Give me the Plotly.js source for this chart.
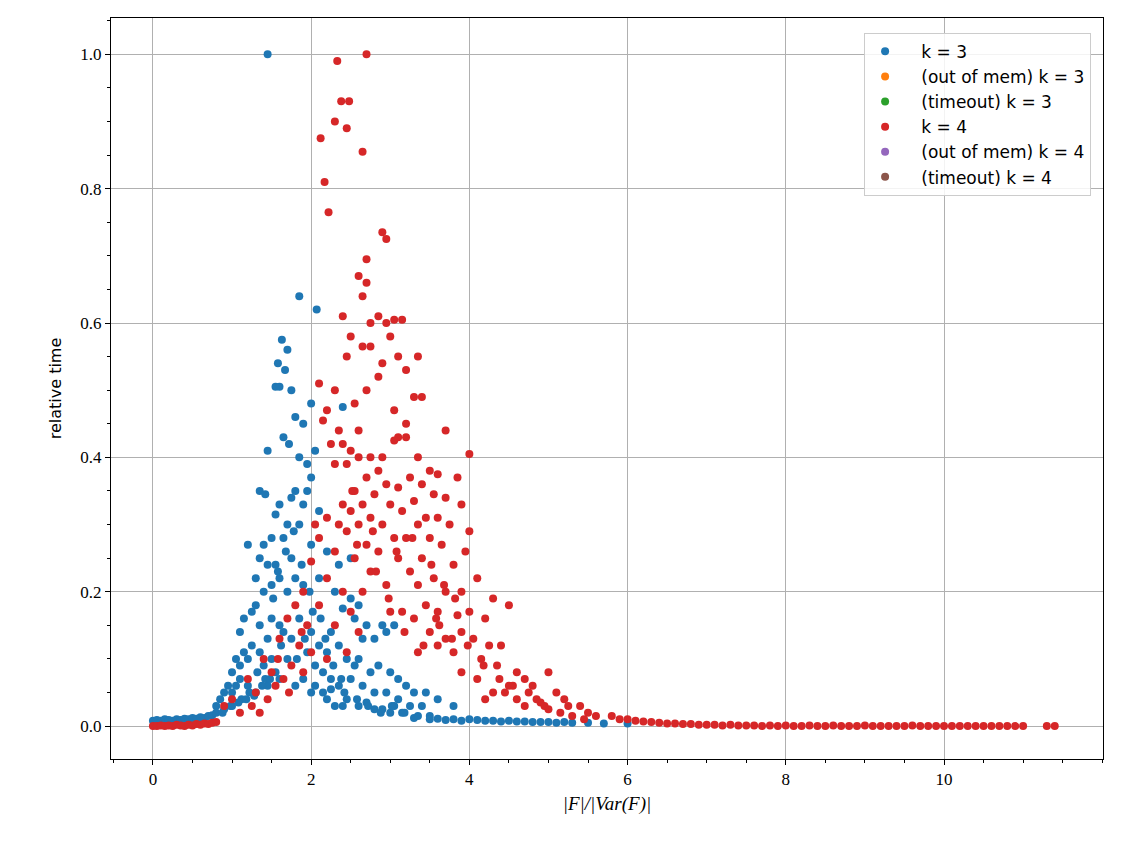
<!DOCTYPE html>
<html><head><meta charset="utf-8">
<script src="https://cdn.plot.ly/plotly-3.0.1.min.js"></script>
<style>body{margin:0}</style></head><body>
<div id="chart" style="width:1122px;height:862px"></div>
<script>
// k = 3 (blue)
const k3x = [1.45,1.85,2.07,1.63,1.7,1.58,1.55,1.6,1.67,1.75,1.8,1.9,2.0,2.05,2.4,1.45,1.65,1.72,1.85,1.95,2.0,1.35,1.42,1.6,1.75,1.8,1.9,1.95,2.1,1.55,1.7,1.85,1.65,1.5,1.4,1.2,1.35,1.45,1.55,1.75,2.0,2.2,2.35,2.5,1.3,1.4,1.5,1.6,1.7,1.8,1.9,2.1,2.3,2.5,2.4,2.6,2.55,2.7,2.9,2.65,2.8,2.95,3.05,1.1,1.15,1.25,1.3,1.35,1.45,1.5,1.6,1.65,1.75,1.85,2.0,2.1,2.2,2.25,2.35,2.45,2.55,2.6,2.75,2.85,3.0,3.1,3.2,3.3,3.45,3.6,3.8,1.0,1.05,1.1,1.15,1.2,1.25,1.35,1.4,1.5,1.55,1.7,1.95,2.05,2.15,2.25,2.35,2.5,2.65,2.8,2.95,3.1,3.25,3.4,0.8,0.85,0.9,0.95,1.0,1.05,1.1,1.2,1.3,1.45,1.6,1.8,2.0,2.2,2.4,2.6,2.8,3.0,3.5,4.0,
0.0,0.05,0.1,0.15,0.2,0.25,0.3,0.35,0.4,0.45,0.5,0.55,0.6,0.65,0.7,0.75,0.8,0.9,1.0,3.3,3.5,3.6,3.7,3.8,3.9,4.1,4.2,4.3,4.4,4.5,4.6,4.7,4.8,4.9,5.0,5.1,5.2,5.3,5.5,5.7,6.0,2.3,2.45,2.7,2.9,3.05,3.15,1.9,2.05,2.15,2.25,
1.52,1.58,1.68,1.78,1.88,1.98,2.12,2.18,2.28,2.38,1.12,1.22,1.32,1.42,1.62,1.82,1.92,2.02,2.42,2.58,2.72,2.88,3.02,3.18,3.35,0.88,0.98,1.08,1.18,1.28,1.38,1.48];
const k3y = [1.0,0.64,0.62,0.575,0.56,0.54,0.505,0.505,0.53,0.5,0.46,0.45,0.48,0.41,0.475,0.41,0.43,0.42,0.4,0.39,0.37,0.35,0.345,0.33,0.34,0.35,0.33,0.35,0.32,0.315,0.3,0.3,0.28,0.28,0.27,0.27,0.25,0.24,0.24,0.25,0.27,0.26,0.24,0.25,0.22,0.2,0.21,0.22,0.2,0.22,0.21,0.22,0.2,0.19,0.175,0.18,0.16,0.15,0.15,0.13,0.13,0.14,0.15,0.14,0.16,0.17,0.18,0.15,0.13,0.16,0.15,0.14,0.13,0.16,0.14,0.12,0.11,0.14,0.12,0.1,0.09,0.1,0.08,0.09,0.08,0.07,0.06,0.05,0.05,0.04,0.03,0.08,0.1,0.09,0.11,0.1,0.12,0.11,0.09,0.1,0.08,0.1,0.11,0.09,0.08,0.07,0.06,0.07,0.06,0.05,0.05,0.04,0.03,0.03,0.03,0.04,0.05,0.06,0.05,0.06,0.07,0.06,0.05,0.06,0.07,0.06,0.05,0.04,0.03,0.03,0.025,0.02,0.015,0.01,
0.008,0.009,0.008,0.01,0.009,0.008,0.01,0.009,0.011,0.01,0.012,0.011,0.013,0.012,0.015,0.016,0.02,0.025,0.03,0.012,0.01,0.011,0.009,0.01,0.008,0.009,0.008,0.008,0.007,0.008,0.007,0.007,0.006,0.006,0.006,0.005,0.006,0.005,0.005,0.004,0.004,0.03,0.04,0.035,0.025,0.03,0.02,0.07,0.06,0.05,0.055,
0.19,0.23,0.26,0.29,0.24,0.2,0.16,0.13,0.09,0.07,0.04,0.05,0.08,0.07,0.12,0.1,0.13,0.17,0.05,0.04,0.03,0.02,0.03,0.02,0.015,0.02,0.03,0.035,0.04,0.045,0.06,0.07];
// k = 4 (red)
const k4x = [2.7,2.33,2.38,2.48,2.3,2.45,2.12,2.65,2.17,2.22,2.9,2.95,2.7,2.6,2.7,2.65,2.4,2.85,2.75,3.05,3.15,2.95,2.5,3.0,2.65,2.75,2.45,3.1,3.35,2.9,3.2,2.85,2.1,2.7,2.3,3.4,3.3,2.2,2.55,3.05,2.15,2.6,2.35,3.2,3.1,3.05,3.2,3.7,2.25,2.4,2.5,4.0,2.6,2.75,2.9,3.35,2.3,2.45,2.85,3.5,3.6,2.7,3.25,3.85,2.95,3.1,3.4,2.55,2.8,3.55,3.7,2.4,2.65,3.0,3.3,3.9,2.2,2.5,2.75,3.15,3.45,3.6,2.05,2.35,2.6,2.9,3.35,3.75,4.0,2.45,3.05,3.2,3.5,2.1,2.7,2.85,3.65,3.95,2.3,2.55,3.1,3.4,3.8,2.0,2.75,3.25,3.55,4.1,2.2,2.95,3.35,3.7,3.9,4.3,4.5,1.9,2.4,2.65,3.0,3.15,3.45,3.6,3.85,4.0,4.2,1.8,2.1,2.5,3.3,3.5,3.7,3.9,4.05,4.25,4.4,1.7,1.95,2.3,2.6,3.6,3.35,3.8,4.15,4.35,4.6,4.7,5.0,1.6,1.85,2.0,2.2,2.45,3.9,4.1,4.5,4.8,5.1,1.4,1.5,1.75,1.9,4.3,4.6,4.9,5.2,5.4,1.2,1.3,1.55,1.65,4.2,4.7,5.0,5.5,5.8,0.9,1.0,1.1,1.25,1.45,6.0,
0.0,0.05,0.1,0.15,0.2,0.25,0.3,0.35,0.4,0.45,0.5,0.55,0.6,0.65,0.7,0.75,0.8,5.6,5.9,6.1,6.2,6.3,6.4,6.5,6.6,6.7,6.8,6.9,7.0,7.1,7.2,7.3,7.4,7.5,7.6,7.7,7.8,7.9,8.0,8.1,8.2,8.3,8.4,8.5,8.6,8.7,8.8,8.9,9.0,9.1,9.2,9.3,9.4,9.5,9.6,9.7,9.8,9.9,10.0,10.1,10.2,10.3,10.4,10.5,10.6,10.7,10.8,10.9,11.0,11.3,11.4,
2.52,2.58,2.82,3.08,3.28,3.52,3.68,3.82,3.62,3.42,3.18,2.98,2.78,3.58,3.78,3.98,4.18,4.38,4.55,4.75,4.95,5.15,5.3,5.45,1.35,1.58,1.72,1.88,4.45,4.85,5.25];
const k4y = [1.0,0.99,0.93,0.93,0.9,0.89,0.875,0.855,0.81,0.765,0.735,0.725,0.695,0.67,0.66,0.64,0.61,0.61,0.6,0.605,0.605,0.6,0.58,0.58,0.565,0.565,0.55,0.55,0.55,0.54,0.53,0.52,0.51,0.5,0.5,0.49,0.49,0.47,0.48,0.47,0.455,0.44,0.44,0.45,0.43,0.425,0.43,0.44,0.42,0.42,0.41,0.405,0.4,0.4,0.4,0.4,0.39,0.39,0.38,0.38,0.375,0.37,0.37,0.37,0.36,0.355,0.36,0.35,0.345,0.345,0.34,0.33,0.33,0.33,0.335,0.33,0.31,0.32,0.31,0.32,0.31,0.31,0.3,0.3,0.3,0.3,0.3,0.3,0.29,0.29,0.28,0.28,0.28,0.28,0.27,0.26,0.27,0.26,0.26,0.25,0.25,0.25,0.24,0.245,0.23,0.23,0.22,0.22,0.22,0.21,0.21,0.2,0.2,0.19,0.18,0.2,0.2,0.2,0.17,0.17,0.18,0.17,0.165,0.17,0.16,0.18,0.18,0.17,0.16,0.14,0.13,0.14,0.13,0.12,0.12,0.16,0.15,0.15,0.14,0.12,0.11,0.11,0.1,0.09,0.08,0.07,0.08,0.13,0.12,0.11,0.1,0.11,0.08,0.07,0.06,0.06,0.05,0.1,0.08,0.09,0.08,0.05,0.04,0.035,0.04,0.03,0.07,0.05,0.06,0.07,0.04,0.03,0.025,0.02,0.015,0.03,0.04,0.02,0.03,0.04,0.01,
0.0,0.0,0.001,0.0,0.001,0.0,0.002,0.001,0.0,0.002,0.001,0.003,0.002,0.004,0.003,0.005,0.006,0.015,0.01,0.008,0.007,0.006,0.005,0.004,0.004,0.003,0.003,0.002,0.002,0.002,0.001,0.002,0.001,0.001,0.001,0.0,0.001,0.0,0.001,0.0,0.0,0.001,0.0,0.0,0.001,0.0,0.0,0.0,0.001,0.0,0.0,0.0,0.0,0.0,0.001,0.0,0.0,0.0,0.0,0.0,0.0,0.0,0.0,0.0,0.0,0.0,0.0,0.0,0.0,0.0,0.0,
0.35,0.27,0.23,0.26,0.28,0.24,0.21,0.19,0.15,0.12,0.14,0.19,0.29,0.16,0.13,0.12,0.09,0.07,0.06,0.05,0.03,0.02,0.015,0.01,0.02,0.1,0.05,0.14,0.05,0.04,0.03];
const names = ["k = 3","(out of mem) k = 3","(timeout) k = 3","k = 4","(out of mem) k = 4","(timeout) k = 4"];
const colors = ["#1f77b4","#ff7f0e","#2ca02c","#d62728","#9467bd","#8c564b"];
const xs = [k3x,[null],[null],k4x,[null],[null]];
const ys = [k3y,[null],[null],k4y,[null],[null]];
const data = names.map((n,i)=>({type:"scatter",mode:"markers",name:"&nbsp;&nbsp;&nbsp;"+n,x:xs[i],y:ys[i],
  marker:{color:colors[i],size:8}}));
const serif = "Liberation Serif, serif";
const ax = {showline:true,mirror:true,linecolor:"#000",linewidth:1,ticks:"outside",ticklen:5,tickcolor:"#000",
  gridcolor:"#b0b0b0",gridwidth:1,zeroline:false,tickfont:{family:serif,size:17,color:"#000"}};
Plotly.newPlot("chart",data,{
  width:1122,height:862,paper_bgcolor:"#fff",plot_bgcolor:"#fff",
  margin:{l:111,r:19,t:18,b:103},showlegend:true,
  xaxis:Object.assign({},ax,{range:[-0.53,12.01],tickvals:[0,2,4,6,8,10],minor:{ticks:"outside",ticklen:3,dtick:0.5,tickcolor:"#000",showgrid:false},
    title:{text:"|F|/|Var(F)|",font:{family:serif,size:19,style:"italic",color:"#000"},standoff:8}}),
  yaxis:Object.assign({},ax,{range:[-0.049,1.054],dtick:0.2,tickformat:".1f",minor:{ticks:"outside",ticklen:3,dtick:0.05,tickcolor:"#000",showgrid:false},
    title:{text:"relative time",font:{family:"DejaVu Sans",size:16,color:"#000"},standoff:14}}),
  legend:{x:0.988,y:0.98,xanchor:"right",yanchor:"top",bgcolor:"rgba(255,255,255,0.85)",bordercolor:"#ccc",borderwidth:1,
    font:{family:"DejaVu Sans",size:17,color:"#000"},tracegroupgap:8}
},{displayModeBar:false});
</script></body></html>
